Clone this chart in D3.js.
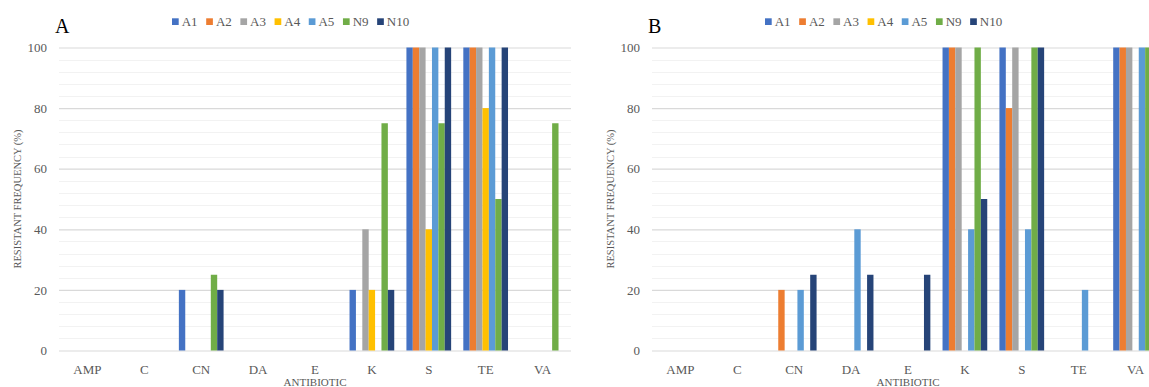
<!DOCTYPE html>
<html>
<head>
<meta charset="utf-8">
<script src="https://cdn.jsdelivr.net/npm/d3@7"></script>
<style>
  html, body { margin: 0; padding: 0; background: #fff; }
  svg { display: block; }
  text { font-family: "Liberation Serif", "Times New Roman", serif; }
</style>
</head>
<body>
<svg id="chart" width="1149" height="387"></svg>
<script>
// Antibiotics tested and bacterial isolates
const antibiotics = ["AMP", "C", "CN", "DA", "E", "K", "S", "TE", "VA"];
const isolates = ["A1", "A2", "A3", "A4", "A5", "N9", "N10"];
const colors = ["#4472C4", "#ED7D31", "#A5A5A5", "#FFC000", "#5B9BD5", "#70AD47", "#264478"];
const yTicks = [0, 20, 40, 60, 80, 100];

// Resistant frequency (%) per isolate, one value per antibiotic — panel A
const panelA = {
  A1:  [0, 0, 20, 0, 0, 20, 100, 100, 0],
  A2:  [0, 0, 0, 0, 0, 0, 100, 100, 0],
  A3:  [0, 0, 0, 0, 0, 40, 100, 100, 0],
  A4:  [0, 0, 0, 0, 0, 20, 40, 80, 0],
  A5:  [0, 0, 0, 0, 0, 0, 100, 100, 0],
  N9:  [0, 0, 25, 0, 0, 75, 75, 50, 75],
  N10: [0, 0, 20, 0, 0, 20, 100, 100, 0]
};

// Resistant frequency (%) per isolate — panel B
const panelB = {
  A1:  [0, 0, 0, 0, 0, 100, 100, 0, 100],
  A2:  [0, 0, 20, 0, 0, 100, 80, 0, 100],
  A3:  [0, 0, 0, 0, 0, 100, 100, 0, 100],
  A4:  [0, 0, 0, 0, 0, 0, 0, 0, 0],
  A5:  [0, 0, 20, 40, 0, 40, 40, 20, 100],
  N9:  [0, 0, 0, 0, 0, 100, 100, 0, 100],
  N10: [0, 0, 25, 25, 25, 50, 100, 0, 0]
};

const svg = d3.select("#chart");
const plotLeft = 59, plotWidth = 512, plotTop = 47.5, plotBottom = 350.5;
const textGray = "#595959";

function drawPanel(offsetX, letter, values) {
  const g = svg.append("g").attr("transform", `translate(${offsetX},0)`);

  const x0 = d3.scaleBand().domain(antibiotics).range([plotLeft, plotLeft + plotWidth]).padding(0);
  const gap = x0.step() * 0.107;
  const x1 = d3.scaleBand().domain(isolates).range([gap, x0.step() - gap]).padding(0);
  const y = d3.scaleLinear().domain([0, 100]).range([plotBottom, plotTop]);

  // minor gridlines every 4 %
  const minor = d3.range(0, 101, 4).filter(v => v % 20 !== 0);
  g.append("g").selectAll("line").data(minor).join("line")
    .attr("x1", plotLeft).attr("x2", plotLeft + plotWidth)
    .attr("y1", d => Math.round(y(d)) + 0.5).attr("y2", d => Math.round(y(d)) + 0.5)
    .attr("stroke", "#f2f2f2").attr("stroke-width", 1);

  // major gridlines + tick labels via a left axis
  const axis = d3.axisLeft(y).tickValues(yTicks).tickSize(-plotWidth).tickPadding(12).tickFormat(d3.format("d"));
  const ag = g.append("g").attr("transform", `translate(${plotLeft},0)`).call(axis);
  ag.select(".domain").remove();
  ag.selectAll(".tick line").attr("stroke", "#d9d9d9").attr("stroke-width", 1.2);
  ag.selectAll(".tick text").attr("fill", textGray).style("font-size", "13px")
    .style("font-family", "'Liberation Serif', serif");

  // bars
  const groups = g.append("g").selectAll("g").data(antibiotics).join("g")
    .attr("transform", d => `translate(${x0(d)},0)`);
  groups.selectAll("rect")
    .data((d, i) => isolates.map((s, k) => ({ s, k, v: values[s][i] })))
    .join("rect")
    .attr("x", d => x1(d.s))
    .attr("width", x1.bandwidth())
    .attr("y", d => y(d.v))
    .attr("height", d => y(0) - y(d.v))
    .attr("fill", d => colors[d.k]);

  // category axis labels
  const xg = g.append("g").attr("transform", `translate(0,${plotBottom})`)
    .call(d3.axisBottom(x0).tickSize(0).tickPadding(14));
  xg.select(".domain").remove();
  xg.selectAll(".tick text").attr("fill", textGray).style("font-size", "13px")
    .style("font-family", "'Liberation Serif', serif");

  // axis titles
  g.append("text")
    .attr("x", plotLeft + plotWidth / 2).attr("y", 385.5)
    .attr("text-anchor", "middle").attr("fill", textGray)
    .style("font-size", "11px").text("ANTIBIOTIC");
  g.append("text")
    .attr("transform", `translate(21,${(plotTop + plotBottom) / 2}) rotate(-90)`)
    .attr("text-anchor", "middle").attr("fill", textGray)
    .style("font-size", "10.5px").text("RESISTANT FREQUENCY (%)");

  // panel letter
  g.append("text").attr("x", 55).attr("y", 33).attr("fill", "#000")
    .style("font-size", "20px").text(letter);

  // legend
  const lg = g.append("g").attr("transform", "translate(172,0)");
  let cx = 0;
  isolates.forEach((s, k) => {
    const item = lg.append("g").attr("transform", `translate(${cx},0)`);
    item.append("rect").attr("x", 0).attr("y", 18.3).attr("width", 6.7).attr("height", 6.7).attr("fill", colors[k]);
    const t = item.append("text").attr("x", 9.7).attr("y", 26).attr("fill", textGray)
      .style("font-size", "13px").text(s);
    cx += 9.7 + t.node().getComputedTextLength() + 8.6;
  });
}

drawPanel(0, "A", panelA);
drawPanel(593, "B", panelB);
</script>
</body>
</html>
